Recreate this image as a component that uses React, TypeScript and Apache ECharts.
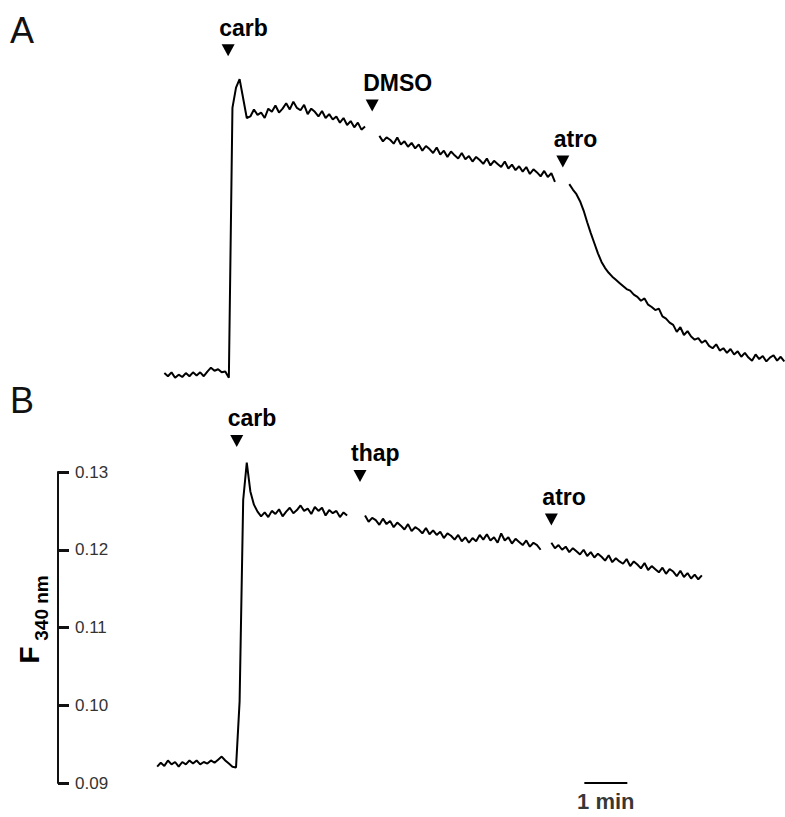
import React, { useEffect, useRef } from "react";
import * as echarts from "echarts";

// sampling interval of the traces (seconds)
const SAMPLE_STEP = 5;
const TIME_MIN = -128.4;
const TIME_MAX = 886;

// Panel A trace (F340), three recorded segments
const segStartsA = [20, 320, 585];
const valuesA1 = [
  0.0923, 0.0919, 0.0924, 0.0917, 0.0921, 0.0918, 0.0923, 0.0919, 0.0924, 0.092,
  0.0924, 0.0919, 0.0925, 0.093, 0.0926, 0.0928, 0.0924, 0.0925, 0.0917, 0.1264,
  0.129, 0.1301, 0.1276, 0.1251, 0.1253, 0.1262, 0.1255, 0.1258, 0.1251, 0.1263,
  0.1259, 0.1267, 0.1258, 0.1263, 0.127, 0.1262, 0.1272, 0.1264, 0.1261, 0.1268,
  0.1256, 0.1263, 0.1259, 0.1253, 0.126, 0.1251, 0.1256, 0.1249, 0.1253, 0.1245,
  0.1251, 0.1242, 0.1247, 0.1239, 0.1245, 0.1236, 0.124,
];
const valuesA2 = [
  0.1228, 0.1221, 0.1226, 0.1223, 0.1218, 0.1226, 0.1217, 0.1221, 0.1214, 0.1219,
  0.1212, 0.1217, 0.1209, 0.1215, 0.1211, 0.1206, 0.1213, 0.1204, 0.1209, 0.1201,
  0.1208, 0.1203, 0.1199, 0.1206, 0.1198, 0.1202, 0.1195, 0.1201, 0.1197, 0.1192,
  0.1199, 0.119, 0.1196, 0.1192, 0.1188, 0.1195, 0.1186, 0.1191, 0.1184, 0.1189,
  0.1182, 0.1188, 0.1179, 0.1185, 0.1181, 0.1176, 0.1183, 0.1175, 0.118, 0.1169,
];
const valuesA3 = [
  0.1166, 0.1159, 0.1153, 0.1144, 0.1132, 0.1117, 0.1103, 0.109, 0.1077, 0.1066,
  0.1058, 0.1052, 0.1047, 0.1043, 0.1039, 0.1035, 0.1031, 0.1029, 0.1024, 0.1021,
  0.1016, 0.1019, 0.1011, 0.1008, 0.1004, 0.1006, 0.0996, 0.0993, 0.0988, 0.0985,
  0.0976, 0.0982, 0.0972, 0.0977, 0.097, 0.0966, 0.0968, 0.0962, 0.0965, 0.0958,
  0.0955, 0.096, 0.0952, 0.0955, 0.0949, 0.0954, 0.0947, 0.0951, 0.0944, 0.0949,
  0.0943, 0.0939, 0.0947, 0.0941, 0.0945, 0.0938, 0.0943, 0.0946, 0.0939, 0.0944,
  0.0938,
];

// Panel B trace (F340), three recorded segments
const segStartsB = [10, 300, 560];
const valuesB1 = [
  0.0921, 0.0926, 0.0922, 0.0929, 0.0924, 0.0927, 0.0921, 0.0927, 0.0924, 0.0929,
  0.0925, 0.0929, 0.0924, 0.0927, 0.0925, 0.0929, 0.0926, 0.093, 0.0934, 0.0929,
  0.0925, 0.0921, 0.092, 0.1005, 0.1264, 0.1312, 0.1275, 0.1258, 0.1249, 0.1243,
  0.1248, 0.1242, 0.125, 0.1246, 0.1252, 0.1243, 0.1249, 0.1254, 0.1247, 0.1251,
  0.1257, 0.125, 0.1253, 0.1246, 0.1255, 0.125, 0.1254, 0.1244, 0.1251, 0.1247,
  0.125, 0.1242, 0.1248, 0.1244,
];
const valuesB2 = [
  0.1244, 0.1236, 0.1241, 0.1238, 0.1232, 0.124, 0.1233, 0.1237, 0.1229, 0.1235,
  0.1231, 0.1226, 0.1233, 0.1224, 0.1229, 0.1226, 0.1221, 0.1228, 0.122, 0.1225,
  0.1219, 0.1223, 0.1215, 0.1221, 0.1218, 0.1213, 0.1219, 0.1211, 0.1216, 0.1209,
  0.1215, 0.1211, 0.1219, 0.1213, 0.122, 0.1212, 0.1216, 0.1209, 0.1221, 0.1212,
  0.1216, 0.1208, 0.1214, 0.121, 0.1206, 0.1212, 0.1204, 0.1209, 0.1206, 0.12,
];
const valuesB3 = [
  0.1209, 0.1202, 0.1206, 0.12, 0.1204, 0.1197, 0.1202, 0.1198, 0.1194, 0.12,
  0.1192, 0.1197, 0.119, 0.1195, 0.1191, 0.1186, 0.1193, 0.1184, 0.1189, 0.1185,
  0.1182, 0.1188, 0.1179, 0.1185, 0.1181, 0.1176, 0.1183, 0.1174, 0.1179, 0.1175,
  0.1171, 0.1177, 0.1169, 0.1175, 0.1172, 0.1166, 0.1173, 0.1165, 0.117, 0.1163,
  0.1168, 0.1162, 0.1167,
];

// drug additions (arrowheads)
const eventNamesA = ["carb", "DMSO", "atro"];
const eventTimesA = [109, 310, 576];
const eventLevelsA = [0.1338, 0.1267, 0.1195];
const eventNamesB = ["carb", "thap", "atro"];
const eventTimesB = [121, 293, 560];
const eventLevelsB = [0.134, 0.1295, 0.1239];

// y axes
const yMinB = 0.09;
const yMaxB = 0.13;
const yStepB = 0.01;
const yMinA = 0.09;
const yMaxA = 0.135;

// scale bar
const scaleBarTimes = [606, 666];
const scaleBarLevel = 0.09;
const scaleBarLabel = "1 min";

const FONT = "'Liberation Sans', Arial, Helvetica, sans-serif";

function buildTrace(starts: number[], segs: number[][]) {
  const out: any[] = [];
  segs.forEach((vals, k) => {
    if (k > 0) out.push([starts[k] - SAMPLE_STEP, "-"]);
    vals.forEach((v, i) => out.push([starts[k] + i * SAMPLE_STEP, v]));
  });
  return out;
}

function buildEvents(names: string[], times: number[], levels: number[]) {
  return names.map((n, i) => ({ name: n, value: [times[i], levels[i]] }));
}

export default function App() {
  const ref = useRef<HTMLDivElement>(null);
  useEffect(() => {
    if (!ref.current) return;
    const chart = echarts.init(ref.current, null, { renderer: "svg" });
    const eventLabel = {
      show: true,
      position: "top",
      distance: 5,
      align: "left",
      offset: [-9, 0],
      formatter: "{b}",
      fontSize: 23,
      fontWeight: "bold",
      fontFamily: FONT,
      color: "#000",
    };
    const traceStyle = { color: "#000", width: 2 };
    chart.setOption({
      animation: false,
      backgroundColor: "#fff",
      grid: [
        { left: 58, right: 0, top: 41, height: 350 },
        { left: 58, right: 0, top: 472, height: 311 },
      ],
      xAxis: [
        { type: "value", gridIndex: 0, min: TIME_MIN, max: TIME_MAX, show: false },
        { type: "value", gridIndex: 1, min: TIME_MIN, max: TIME_MAX, show: false },
      ],
      yAxis: [
        { type: "value", gridIndex: 0, min: yMinA, max: yMaxA, show: false },
        {
          type: "value",
          gridIndex: 1,
          min: yMinB,
          max: yMaxB,
          interval: yStepB,
          position: "left",
          axisLine: { show: true, onZero: false, lineStyle: { color: "#111", width: 2 } },
          axisTick: { show: true, inside: true, length: 11, lineStyle: { color: "#111", width: 3 } },
          splitLine: { show: false },
          axisLabel: {
            inside: true,
            margin: 17,
            fontSize: 17,
            fontFamily: FONT,
            color: "#333",
            padding: [9, 0, 0, 0],
            formatter: (v: number) => v.toFixed(2),
          },
        },
      ],
      graphic: [
        { type: "text", x: 10, y: 12, style: { text: "A", fontSize: 36, fontFamily: FONT, fill: "#111", verticalAlign: "top" } },
        { type: "text", x: 10, y: 382, style: { text: "B", fontSize: 36, fontFamily: FONT, fill: "#111", verticalAlign: "top" } },
        {
          type: "text",
          x: 29,
          y: 655,
          rotation: Math.PI / 2,
          style: { text: "F", fontSize: 28, fontWeight: "bold", fontFamily: FONT, fill: "#000", align: "center", verticalAlign: "middle" },
        },
        {
          type: "text",
          x: 41,
          y: 608,
          rotation: Math.PI / 2,
          style: { text: "340 nm", fontSize: 19, fontWeight: "bold", fontFamily: FONT, fill: "#000", align: "center", verticalAlign: "middle" },
        },
      ],
      series: [
        {
          type: "line",
          xAxisIndex: 0,
          yAxisIndex: 0,
          data: buildTrace(segStartsA, [valuesA1, valuesA2, valuesA3]),
          showSymbol: false,
          symbol: "none",
          connectNulls: false,
          clip: false,
          lineStyle: traceStyle,
        },
        {
          type: "line",
          xAxisIndex: 1,
          yAxisIndex: 1,
          data: buildTrace(segStartsB, [valuesB1, valuesB2, valuesB3]),
          showSymbol: false,
          symbol: "none",
          connectNulls: false,
          clip: false,
          lineStyle: traceStyle,
        },
        {
          type: "scatter",
          xAxisIndex: 0,
          yAxisIndex: 0,
          data: buildEvents(eventNamesA, eventTimesA, eventLevelsA),
          symbol: "triangle",
          symbolRotate: 180,
          symbolSize: [13, 12],
          itemStyle: { color: "#000", opacity: 1 },
          clip: false,
          label: eventLabel,
        },
        {
          type: "scatter",
          xAxisIndex: 1,
          yAxisIndex: 1,
          data: buildEvents(eventNamesB, eventTimesB, eventLevelsB),
          symbol: "triangle",
          symbolRotate: 180,
          symbolSize: [13, 12],
          itemStyle: { color: "#000", opacity: 1 },
          clip: false,
          label: eventLabel,
        },
        {
          type: "line",
          xAxisIndex: 1,
          yAxisIndex: 1,
          data: scaleBarTimes.map((t) => [t, scaleBarLevel]),
          showSymbol: false,
          symbol: "none",
          clip: false,
          lineStyle: { color: "#000", width: 2 },
        },
        {
          type: "scatter",
          xAxisIndex: 1,
          yAxisIndex: 1,
          data: [{ name: scaleBarLabel, value: [(scaleBarTimes[0] + scaleBarTimes[1]) / 2, scaleBarLevel] }],
          symbolSize: 0,
          clip: false,
          label: {
            show: true,
            position: "bottom",
            distance: 7,
            formatter: "{b}",
            fontSize: 22,
            fontWeight: "bold",
            fontFamily: FONT,
            color: "#000",
          },
        },
      ],
    });
    return () => chart.dispose();
  }, []);
  return <div ref={ref} style={{ position: "absolute", left: 0, top: 0, width: 785, height: 817 }} />;
}
